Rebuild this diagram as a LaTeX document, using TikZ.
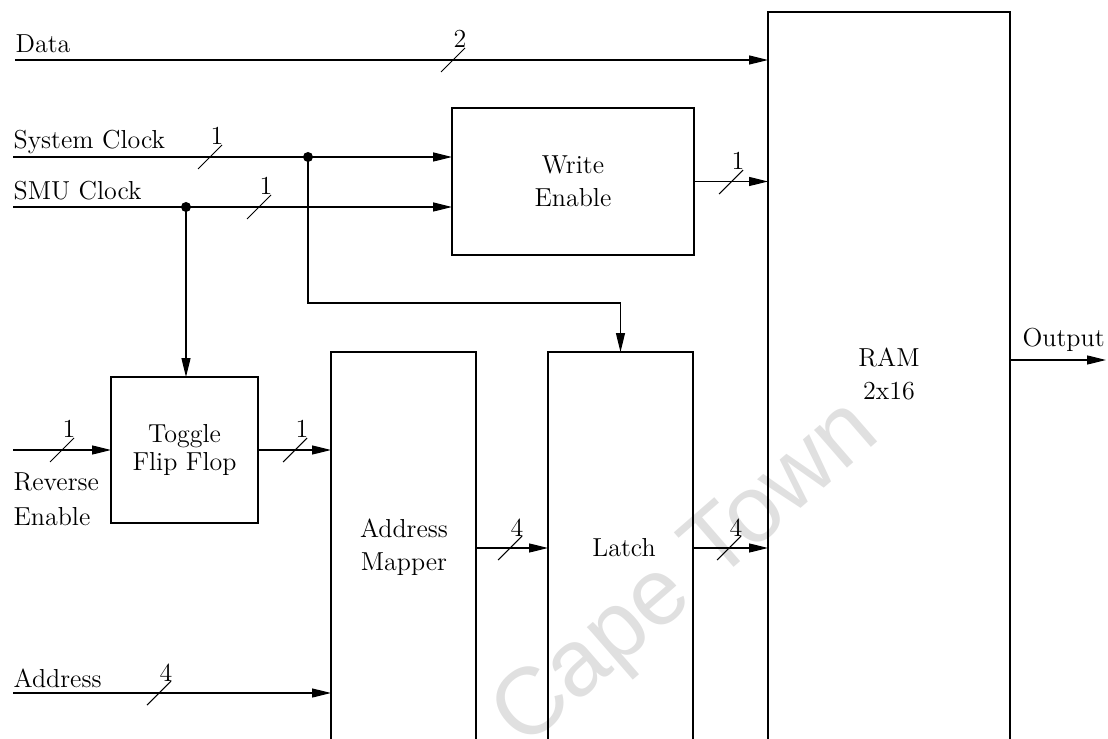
\documentclass[tikz,border=0pt]{standalone}
\usepackage{fontspec}
\newfontfamily\wmfont{Liberation Sans}
\usetikzlibrary{arrows.meta}
\begin{document}
\begin{tikzpicture}[x=0.02cm,y=-0.02cm, line width=0.7pt,
  every node/.style={font=\fontsize{14.8}{18.5}\selectfont, inner sep=0pt},
  box/.style={draw, inner sep=0pt, outer sep=0pt},
  arr/.style={-{Triangle[length=0.38cm,width=0.18cm]}},
  busmark/.pic={\draw[line width=0.6pt] (-12,12) -- (12,-12);
                \node[anchor=base] (-n) at (7,-12) {\tikzpictext};},
]
\useasboundingbox (0,0) rectangle (1108,739);
\clip (0,0) rectangle (1108,739);

% watermark
\node[rotate=41, text=black!12, font=\wmfont\fontsize{54}{60}\selectfont] (wm) at (688,576) {Cape Town};

% blocks
\node[box, anchor=north west, minimum width=4.84cm, minimum height=16cm] (ram) at (768,12) {};
\node[align=center] (ramtxt) at (889,374) {RAM\\2x16};
\node[box, align=center, minimum width=4.84cm, minimum height=2.94cm] (we) at (573,181.5) {Write\\Enable};
\node[box, align=center, minimum width=2.94cm, minimum height=2.92cm] (tff) at (184.5,450) {Toggle\\[-3pt]Flip Flop};
\node[box, anchor=north west, minimum width=2.9cm, minimum height=10cm] (am) at (331,352) {};
\node[align=center] (amtxt) at (404,547) {Address\\Mapper};
\node[box, anchor=north west, minimum width=2.9cm, minimum height=10cm] (latch) at (548,352) {};
\node (latchtxt) at (624,548) {Latch};

% signal labels
\node[anchor=base west] (ldata) at (15,53) {Data};
\node[anchor=base west] (lsys) at (13,149) {System Clock};
\node[anchor=base west] (lsmu) at (13,200) {SMU Clock};
\node[anchor=base west] (lrev) at (13,490) {Reverse};
\node[anchor=base west] (len) at (13,525) {Enable};
\node[anchor=base west] (laddr) at (13,687) {Address};
\node[anchor=base west] (lout) at (1022,347) {Output};

% free ends and junctions
\coordinate (dataL) at (15,60);
\coordinate (sysL) at (13,157);
\coordinate (smuL) at (13,207);
\coordinate (revL) at (13,450);
\coordinate (addrL) at (13,693);
\coordinate (outR) at (1106,360);
\coordinate (j1) at (308,157);
\coordinate (j2) at (186,207);

% connectors
\draw[arr] (dataL) -- (dataL -| ram.west);
\draw[arr] (sysL) -- (sysL -| we.west);
\draw[arr] (smuL) -- (smuL -| we.west);
\draw[arr] (we.east) -- (we.east -| ram.west);
\draw[arr] (j2) -- (j2 |- tff.north);
\draw[arr] (j1) |- ([yshift=0.98cm]latch.north) -- (latch.north);
\draw[arr] (revL) -- (revL -| tff.west);
\draw[arr] (tff.east) -- (tff.east -| am.west);
\draw[arr] (addrL) -- (addrL -| am.west);
\draw[arr] (am.east |- latchtxt) -- (latch.west |- latchtxt);
\draw[arr] (latch.east |- latchtxt) -- (ram.west |- latchtxt);
\draw[arr] (ram.east |- outR) -- (outR);
\fill (j1) circle[radius=1mm];
\fill (j2) circle[radius=1mm];

% bus width marks
\pic (bdata) [pic text=2] at (453,60) {busmark};
\pic (bsys) [pic text=1] at (210,157) {busmark};
\pic (bsmu) [pic text=1] at (259,207) {busmark};
\pic (bwe) [pic text=1] at (731,182) {busmark};
\pic (brev) [pic text=1] at (62,450) {busmark};
\pic (btff) [pic text=1] at (295,450) {busmark};
\pic (baddr) [pic text=4] at (159,693) {busmark};
\pic (bam) [pic text=4] at (510,548) {busmark};
\pic (blatch) [pic text=4] at (729,548) {busmark};
\end{tikzpicture}
\end{document}
